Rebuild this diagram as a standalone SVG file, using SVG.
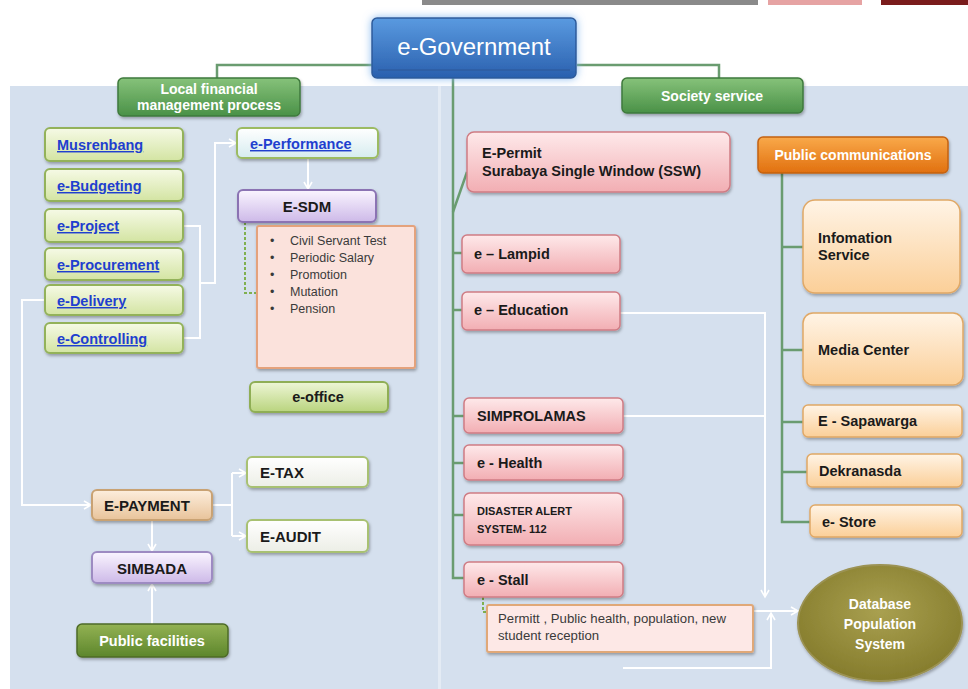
<svg xmlns="http://www.w3.org/2000/svg" width="968" height="689" viewBox="0 0 968 689">
<defs>
<linearGradient id="gGreenL" x1="0" y1="0" x2="0" y2="1"><stop offset="0" stop-color="#f6fae6"/><stop offset="1" stop-color="#d3e4a2"/></linearGradient>
<linearGradient id="gOffice" x1="0" y1="0" x2="0" y2="1"><stop offset="0" stop-color="#eef6d6"/><stop offset="1" stop-color="#b9d47e"/></linearGradient>
<linearGradient id="gCyan" x1="0" y1="0" x2="0" y2="1"><stop offset="0" stop-color="#ffffff"/><stop offset="1" stop-color="#d6ecef"/></linearGradient>
<linearGradient id="gPurple" x1="0" y1="0" x2="0" y2="1"><stop offset="0" stop-color="#faf5ff"/><stop offset="1" stop-color="#cdb9e8"/></linearGradient>
<linearGradient id="gTan" x1="0" y1="0" x2="0" y2="1"><stop offset="0" stop-color="#fdeedd"/><stop offset="1" stop-color="#e8c39a"/></linearGradient>
<linearGradient id="gWhite" x1="0" y1="0" x2="0" y2="1"><stop offset="0" stop-color="#ffffff"/><stop offset="1" stop-color="#eceee6"/></linearGradient>
<linearGradient id="gDark" x1="0" y1="0" x2="0" y2="1"><stop offset="0" stop-color="#93b253"/><stop offset="1" stop-color="#5d862c"/></linearGradient>
<linearGradient id="gHead" x1="0" y1="0" x2="0" y2="1"><stop offset="0" stop-color="#86c27a"/><stop offset="1" stop-color="#4a9147"/></linearGradient>
<linearGradient id="gBlue" x1="0" y1="0" x2="0" y2="1"><stop offset="0" stop-color="#5a9ae0"/><stop offset="1" stop-color="#2a60ae"/></linearGradient>
<linearGradient id="gPink" x1="0" y1="0" x2="0" y2="1"><stop offset="0" stop-color="#fee9ea"/><stop offset="1" stop-color="#f2aeb3"/></linearGradient>
<linearGradient id="gOrange" x1="0" y1="0" x2="0" y2="1"><stop offset="0" stop-color="#f9a94a"/><stop offset="1" stop-color="#e1700f"/></linearGradient>
<linearGradient id="gPeach" x1="0" y1="0" x2="0" y2="1"><stop offset="0" stop-color="#fff4e6"/><stop offset="1" stop-color="#fbcf98"/></linearGradient>
<radialGradient id="gOlive" cx="0.5" cy="0.4" r="0.6"><stop offset="0" stop-color="#a9a050"/><stop offset="1" stop-color="#857c2c"/></radialGradient>
<filter id="sh" x="-10%" y="-10%" width="120%" height="140%"><feDropShadow dx="1" dy="2" stdDeviation="1.5" flood-color="#000" flood-opacity="0.3"/></filter>
<filter id="glow" x="-20%" y="-30%" width="140%" height="160%"><feDropShadow dx="0" dy="0" stdDeviation="4" flood-color="#7fb4ee" flood-opacity="0.9"/></filter>
<marker id="ar" markerWidth="10" markerHeight="10" refX="8" refY="5" orient="auto" markerUnits="userSpaceOnUse"><path d="M1,1 L8,5 L1,9" fill="none" stroke="#ffffff" stroke-width="1.6"/></marker>
</defs>
<style>
text{font-family:"Liberation Sans",Arial,sans-serif;}
.b{font-weight:bold;font-size:14.5px;fill:#1a1a1a;}
.b15{font-size:15px;}
.lk{font-weight:bold;font-size:14.5px;fill:#1f3fcf;text-decoration:underline;}
.w{font-weight:bold;fill:#ffffff;}
.li{font-size:12.5px;fill:#3a3a3a;}
.gl{fill:url(#gGreenL);stroke:#93b25a;stroke-width:2;}
.pk{fill:url(#gPink);stroke:#cf7c84;stroke-width:1.5;}
.pe{fill:url(#gPeach);stroke:#e0a866;stroke-width:1.5;}
.gc{fill:none;stroke:#6a9c70;stroke-width:2.5;}
.wc{fill:none;stroke:#ffffff;stroke-width:2;}
.dc{fill:none;stroke:#7fb04f;stroke-width:2;stroke-dasharray:3 2;}
</style>
<rect x="0" y="0" width="968" height="689" fill="#ffffff"/>
<rect x="422" y="0" width="336" height="5" fill="#8a8a8a"/>
<rect x="768" y="0" width="94" height="5" fill="#e6a3a3"/>
<rect x="881" y="0" width="87" height="5" fill="#7a1c1c"/>
<rect x="10" y="86" width="958" height="603" fill="#d5e0ee"/>
<rect x="438" y="86" width="3" height="603" fill="#e4ebf4"/>

<g id="connectors">
<path class="gc" d="M217,78 V65 H372"/>
<path class="gc" d="M577,65 H719 V78"/>
<path class="gc" d="M453,78 V578 H464"/>
<path class="gc" d="M453,212 L467,172"/>
<path class="gc" d="M453,253 H462 M453,310 H462 M453,416 H464 M453,463 H464 M453,515 H464"/>
<path class="gc" d="M782,173 V522 H810"/>
<path class="gc" d="M782,247 H803 M782,350 H803 M782,422 H803 M782,472 H807"/>
<path class="dc" d="M245,222 V293 H257"/>
<path class="dc" d="M483,597 V612 H490"/>
<path class="wc" d="M183,226 H200 V338 H183"/>
<path class="wc" d="M200,283 H215 V143 H236" marker-end="url(#ar)"/>
<path class="wc" d="M308,158 V189" marker-end="url(#ar)"/>
<path class="wc" d="M45,300 H22 V505 H91" marker-end="url(#ar)"/>
<path class="wc" d="M212,505 H232 M232,473 V536"/>
<path class="wc" d="M232,473 H246" marker-end="url(#ar)"/>
<path class="wc" d="M232,536 H246" marker-end="url(#ar)"/>
<path class="wc" d="M152,520 V551" marker-end="url(#ar)"/>
<path class="wc" d="M152,624 V584" marker-end="url(#ar)"/>
<path class="wc" d="M620,313 H765 V597" marker-end="url(#ar)"/>
<path class="wc" d="M623,416 H765"/>
<path class="wc" d="M753,611 H798" marker-end="url(#ar)"/>
<path class="wc" d="M623,668 H771 V613" marker-end="url(#ar)"/>
</g>

<g id="egov"><rect x="372" y="18" width="204" height="60" rx="5" fill="url(#gBlue)" stroke="#2d5a9a" stroke-width="1.5" filter="url(#glow)"/><line x1="378" y1="70" x2="570" y2="70" stroke="#2a5696" stroke-width="1"/><text x="474" y="55" text-anchor="middle" font-size="24" fill="#ffffff">e-Government</text></g>

<g id="localfin"><rect x="118" y="78" width="182" height="38" rx="5" fill="url(#gHead)" stroke="#3f7a3c" stroke-width="1.5" filter="url(#sh)"/><text class="w" x="209" y="94" text-anchor="middle" font-size="14">Local financial</text><text class="w" x="209" y="110" text-anchor="middle" font-size="14">management  process</text></g>
<g id="society"><rect x="622" y="78" width="181" height="35" rx="5" fill="url(#gHead)" stroke="#3f7a3c" stroke-width="1.5" filter="url(#sh)"/><text class="w" x="712" y="101" text-anchor="middle" font-size="14">Society service</text></g>

<g id="musrenbang"><rect class="gl" x="45" y="128" width="138" height="33" rx="5" filter="url(#sh)"/><text class="lk" x="57" y="150">Musrenbang</text></g>
<g id="ebudgeting"><rect class="gl" x="45" y="169" width="138" height="32" rx="5" filter="url(#sh)"/><text class="lk" x="57" y="191">e-Budgeting</text></g>
<g id="eproject"><rect class="gl" x="45" y="209" width="138" height="33" rx="5" filter="url(#sh)"/><text class="lk" x="57" y="231">e-Project</text></g>
<g id="eprocurement"><rect class="gl" x="45" y="248" width="138" height="32" rx="5" filter="url(#sh)"/><text class="lk" x="57" y="270">e-Procurement</text></g>
<g id="edelivery"><rect class="gl" x="45" y="285" width="138" height="30" rx="5" filter="url(#sh)"/><text class="lk" x="57" y="306">e-Delivery</text></g>
<g id="econtrolling"><rect class="gl" x="45" y="323" width="138" height="30" rx="5" filter="url(#sh)"/><text class="lk" x="57" y="344">e-Controlling</text></g>

<g id="eperformance"><rect x="237" y="128" width="141" height="30" rx="5" fill="url(#gCyan)" stroke="#9cbb62" stroke-width="2" filter="url(#sh)"/><text class="lk" x="250" y="149">e-Performance</text></g>
<g id="esdm"><rect x="238" y="190" width="138" height="32" rx="5" fill="url(#gPurple)" stroke="#8b73b3" stroke-width="2" filter="url(#sh)"/><text class="b" x="307" y="212" text-anchor="middle" style="font-size:15px">E-SDM</text></g>
<g id="sdmlist"><rect x="257" y="226" width="158" height="142" rx="2" fill="#fbe2dc" stroke="#e4a27c" stroke-width="2" filter="url(#sh)"/>
<text class="li" x="270" y="245">•</text><text class="li" x="290" y="245">Civil Servant Test</text>
<text class="li" x="270" y="262">•</text><text class="li" x="290" y="262">Periodic Salary</text>
<text class="li" x="270" y="279">•</text><text class="li" x="290" y="279">Promotion</text>
<text class="li" x="270" y="296">•</text><text class="li" x="290" y="296">Mutation</text>
<text class="li" x="270" y="313">•</text><text class="li" x="290" y="313">Pension</text></g>
<g id="eoffice"><rect x="250" y="382" width="138" height="30" rx="5" fill="url(#gOffice)" stroke="#8fae55" stroke-width="2" filter="url(#sh)"/><text class="b" x="318" y="402" text-anchor="middle">e-office</text></g>
<g id="epayment"><rect x="92" y="490" width="120" height="30" rx="5" fill="url(#gTan)" stroke="#c9a273" stroke-width="2" filter="url(#sh)"/><text class="b" x="104" y="511" style="font-size:15px">E-PAYMENT</text></g>
<g id="etax"><rect x="247" y="457" width="121" height="30" rx="5" fill="url(#gWhite)" stroke="#a8c172" stroke-width="2" filter="url(#sh)"/><text class="b" x="260" y="478" style="font-size:15px">E-TAX</text></g>
<g id="eaudit"><rect x="247" y="520" width="121" height="32" rx="5" fill="url(#gWhite)" stroke="#a8c172" stroke-width="2" filter="url(#sh)"/><text class="b" x="260" y="542" style="font-size:15px">E-AUDIT</text></g>
<g id="simbada"><rect x="92" y="552" width="120" height="31" rx="5" fill="url(#gPurple)" stroke="#9d8bc2" stroke-width="2" filter="url(#sh)"/><text class="b" x="152" y="574" text-anchor="middle" style="font-size:15px">SIMBADA</text></g>
<g id="publicfac"><rect x="77" y="624" width="151" height="33" rx="5" fill="url(#gDark)" stroke="#4d6b27" stroke-width="1.5" filter="url(#sh)"/><text class="w" x="152" y="646" text-anchor="middle" font-size="14.5">Public facilities</text></g>

<g id="epermit"><rect class="pk" x="467" y="132" width="263" height="60" rx="7" filter="url(#sh)"/><text class="b" x="482" y="158">E-Permit</text><text class="b" x="482" y="176">Surabaya Single Window (SSW)</text></g>
<g id="elampid"><rect class="pk" x="462" y="235" width="158" height="38" rx="5" filter="url(#sh)"/><text class="b" x="474" y="259">e – Lampid</text></g>
<g id="eeducation"><rect class="pk" x="462" y="292" width="158" height="38" rx="5" filter="url(#sh)"/><text class="b" x="474" y="315">e – Education</text></g>
<g id="simprolamas"><rect class="pk" x="464" y="398" width="159" height="35" rx="5" filter="url(#sh)"/><text class="b" x="477" y="421">SIMPROLAMAS</text></g>
<g id="ehealth"><rect class="pk" x="464" y="445" width="159" height="35" rx="5" filter="url(#sh)"/><text class="b" x="477" y="468">e - Health</text></g>
<g id="disaster"><rect class="pk" x="464" y="493" width="159" height="52" rx="6" filter="url(#sh)"/><text class="b" x="477" y="515" style="font-size:11px">DISASTER ALERT</text><text class="b" x="477" y="533" style="font-size:11px">SYSTEM- 112</text></g>
<g id="estall"><rect class="pk" x="464" y="562" width="159" height="35" rx="5" filter="url(#sh)"/><text class="b" x="477" y="585">e - Stall</text></g>
<g id="permitt"><rect x="487" y="605" width="266" height="47" rx="2" fill="#fde8e6" stroke="#e0a878" stroke-width="2" filter="url(#sh)"/><text class="li" x="498" y="623" style="font-size:13.2px">Permitt , Public health, population, new</text><text class="li" x="498" y="640" style="font-size:13.2px">student reception</text></g>

<g id="publiccomm"><rect x="758" y="137" width="190" height="36" rx="5" fill="url(#gOrange)" stroke="#c46212" stroke-width="1.5" filter="url(#sh)"/><text class="w" x="853" y="160" text-anchor="middle" font-size="14">Public communications</text></g>
<g id="infoservice"><rect class="pe" x="803" y="200" width="157" height="93" rx="12" filter="url(#sh)"/><text class="b" x="818" y="243">Infomation</text><text class="b" x="818" y="260">Service</text></g>
<g id="mediacenter"><rect class="pe" x="803" y="313" width="160" height="72" rx="10" filter="url(#sh)"/><text class="b" x="818" y="355">Media Center</text></g>
<g id="sapawarga"><rect class="pe" x="803" y="405" width="159" height="32" rx="5" filter="url(#sh)"/><text class="b" x="818" y="426">E -  Sapawarga</text></g>
<g id="dekranasda"><rect class="pe" x="807" y="454" width="155" height="33" rx="5" filter="url(#sh)"/><text class="b" x="819" y="476">Dekranasda</text></g>
<g id="estore"><rect class="pe" x="810" y="505" width="152" height="32" rx="5" filter="url(#sh)"/><text class="b" x="822" y="527">e- Store</text></g>
<g id="database"><ellipse cx="880" cy="623" rx="82" ry="58" fill="url(#gOlive)" stroke="#9b9252" stroke-width="2" filter="url(#sh)"/><text class="w" x="880" y="609" text-anchor="middle" font-size="14" fill="#f3ecd2">Database</text><text class="w" x="880" y="629" text-anchor="middle" font-size="14">Population</text><text class="w" x="880" y="649" text-anchor="middle" font-size="14">System</text></g>
</svg>
